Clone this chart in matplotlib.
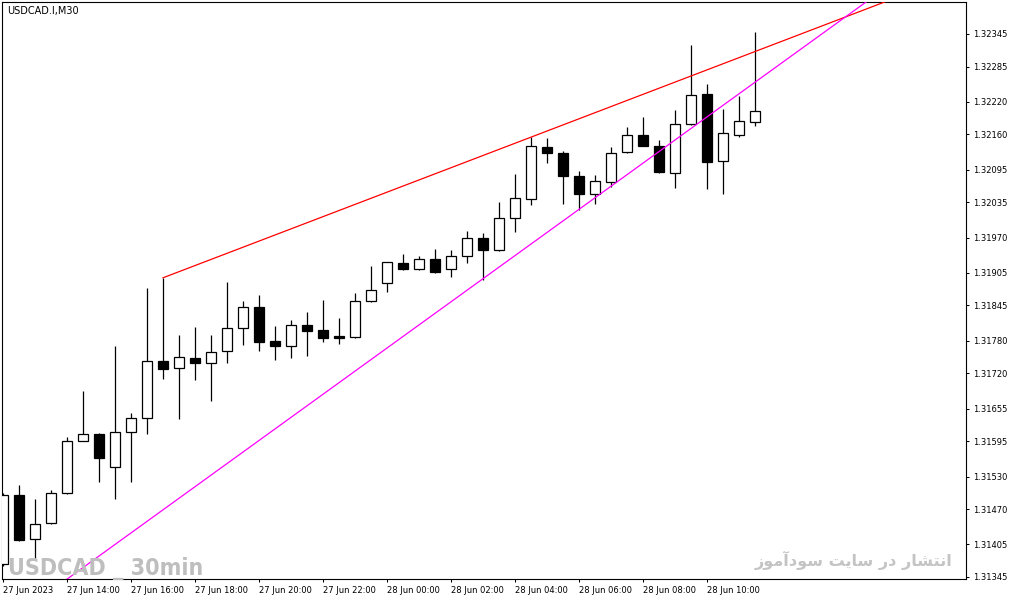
import matplotlib
matplotlib.use("Agg")
import matplotlib.pyplot as plt
from matplotlib import font_manager as fm
import numpy as np

# ---------------- data ----------------
chart_title = "USDCAD.I,M30"
watermark_left = "USDCAD _ 30min"
# "انتشار در سایت سودآموز" written with Arabic presentation forms in visual order
watermark_right = ("\uFEAF\uFEEE\uFEE3\uFE81\uFEA9\uFEEE\uFEB3 "
                   "\uFE96\uFBFE\uFE8E\uFEB3 "
                   "\uFEAD\uFEA9 "
                   "\uFEAD\uFE8E\uFEB8\uFE98\uFEE7\uFE8D")

opens = [1.31369, 1.31496, 1.31415, 1.31444, 1.31500, 1.31596, 1.31608, 1.31548,
         1.31612, 1.31638, 1.31743, 1.31730, 1.31748, 1.31739, 1.31761, 1.31804,
         1.31842, 1.31780, 1.31770, 1.31809, 1.31800, 1.31789, 1.31787, 1.31853,
         1.31886, 1.31923, 1.31912, 1.31931, 1.31912, 1.31936, 1.31969, 1.31947,
         1.32006, 1.32041, 1.32137, 1.32126, 1.32083, 1.32050, 1.32072, 1.32128,
         1.32159, 1.32139, 1.32089, 1.32179, 1.32235, 1.32111, 1.32159, 1.32183]
highs = [1.31500, 1.31514, 1.31489, 1.31505, 1.31603, 1.31688, 1.31610, 1.31770,
         1.31647, 1.31877, 1.31896, 1.31791, 1.31805, 1.31791, 1.31888, 1.31853,
         1.31864, 1.31807, 1.31818, 1.31833, 1.31855, 1.31822, 1.31868, 1.31918,
         1.31926, 1.31940, 1.31936, 1.31949, 1.31947, 1.31982, 1.31979, 1.32036,
         1.32087, 1.32155, 1.32153, 1.32130, 1.32093, 1.32085, 1.32137, 1.32174,
         1.32192, 1.32150, 1.32205, 1.32325, 1.32253, 1.32207, 1.32231, 1.32349]
lows = [1.31365, 1.31411, 1.31380, 1.31443, 1.31498, 1.31595, 1.31520, 1.31489,
        1.31520, 1.31608, 1.31710, 1.31636, 1.31708, 1.31669, 1.31739, 1.31772,
        1.31761, 1.31745, 1.31748, 1.31752, 1.31778, 1.31774, 1.31786, 1.31851,
        1.31870, 1.31911, 1.31911, 1.31905, 1.31898, 1.31923, 1.31892, 1.31946,
        1.31980, 1.32030, 1.32107, 1.32032, 1.32021, 1.32032, 1.32063, 1.32126,
        1.32138, 1.32089, 1.32061, 1.32177, 1.32060, 1.32050, 1.32155, 1.32176]
closes = [1.31496, 1.31413, 1.31443, 1.31500, 1.31596, 1.31608, 1.31564, 1.31612,
          1.31638, 1.31743, 1.31728, 1.31750, 1.31739, 1.31759, 1.31804, 1.31842,
          1.31778, 1.31770, 1.31809, 1.31798, 1.31785, 1.31785, 1.31853, 1.31874,
          1.31925, 1.31912, 1.31931, 1.31907, 1.31936, 1.31969, 1.31947, 1.32006,
          1.32043, 1.32139, 1.32126, 1.32083, 1.32050, 1.32074, 1.32126, 1.32159,
          1.32139, 1.32091, 1.32179, 1.32233, 1.32109, 1.32163, 1.32185, 1.32203]

x_tick_idx = [0, 4, 8, 12, 16, 20, 24, 28, 32, 36, 40, 44]
x_tick_labels = ["27 Jun 2023", "27 Jun 14:00", "27 Jun 16:00", "27 Jun 18:00",
                 "27 Jun 20:00", "27 Jun 22:00", "28 Jun 00:00", "28 Jun 02:00",
                 "28 Jun 04:00", "28 Jun 06:00", "28 Jun 08:00", "28 Jun 10:00"]
y_tick_values = [1.31345, 1.31405, 1.31470, 1.31530, 1.31595, 1.31655, 1.31720,
                 1.31780, 1.31845, 1.31905, 1.31970, 1.32035, 1.32095, 1.32160,
                 1.32220, 1.32285, 1.32345]

# trend lines
red_anchor_idx = [10, 33]            # resistance ray through these candle highs
magenta_idx = [4, 36]                # support line anchors
magenta_price = [1.31341, 1.32022]

x_range = (-0.0625, 60.19)
y_range = (1.313413, 1.324039)

# ---------------- figure ----------------
W, H = 1013, 601
fig = plt.figure(figsize=(W / 100, H / 100), dpi=100, facecolor="white")
ax = fig.add_axes([2 / W, 22 / H, 964 / W, 577 / H])
ax.set_facecolor("white")

x = np.arange(len(opens))
o = np.array(opens); h = np.array(highs); l = np.array(lows); c = np.array(closes)
up = c >= o
body_bottom = np.minimum(o, c)
body_h = np.maximum(np.abs(c - o), 0.000004)

ax.vlines(x, l, h, color="black", linewidth=0.9, zorder=2)
ax.bar(x[up], body_h[up], bottom=body_bottom[up], width=0.62, facecolor="white",
       edgecolor="black", linewidth=0.9, zorder=3)
ax.bar(x[~up], body_h[~up], bottom=body_bottom[~up], width=0.62, facecolor="black",
       edgecolor="black", linewidth=0.9, zorder=3)

# red resistance ray
i0, i1 = red_anchor_idx
slope_r = (highs[i1] - highs[i0]) / (i1 - i0)
xr = np.array([i0, x_range[1]])
ax.plot(xr, highs[i0] + slope_r * (xr - i0), color="#FF0000", linewidth=0.9, zorder=4)

# magenta support line
slope_m = (magenta_price[1] - magenta_price[0]) / (magenta_idx[1] - magenta_idx[0])
xm = np.array([x_range[0], x_range[1]])
ax.plot(xm, magenta_price[0] + slope_m * (xm - magenta_idx[0]), color="#FF00FF",
        linewidth=0.9, zorder=4)

ax.set_xlim(*x_range)
ax.set_ylim(*y_range)

ax.yaxis.tick_right()
ax.set_yticks(y_tick_values)
ax.set_yticklabels([f"{v:.5f}" for v in y_tick_values])
ax.set_xticks(x_tick_idx)
ax.set_xticklabels(x_tick_labels)
for lab in ax.get_xticklabels():
    lab.set_horizontalalignment("left")
ax.tick_params(axis="y", direction="out", length=2.3, width=0.75, pad=2.5,
               labelsize=6, colors="black")
ax.tick_params(axis="x", direction="out", length=2.3, width=0.75, pad=2.5,
               labelsize=6, colors="black")
for sp in ax.spines.values():
    sp.set_linewidth(0.8)
    sp.set_color("black")

fig.text(7 / W, 1 - 11 / H, chart_title, fontsize=7, ha="left", va="center",
         color="black")


# pick a condensed bold face if one is installed
def find_condensed_bold():
    best = None
    for f in fm.fontManager.ttflist:
        name = f.name.lower()
        stretch = str(f.stretch).lower()
        weight = f.weight
        is_bold = (weight in ("bold", "heavy", "black", "extra bold", "demibold")
                   or (isinstance(weight, (int, float)) and weight >= 600))
        is_cond = ("condensed" in stretch or "narrow" in name or "condensed" in name)
        if is_bold and is_cond:
            score = 0 if "dejavu" in name else (1 if "liberation" in name else 2)
            if best is None or score < best[0]:
                best = (score, f.fname)
    return best[1] if best else None


cond_path = find_condensed_bold()
if cond_path:
    wm_prop = fm.FontProperties(fname=cond_path)
else:
    wm_prop = fm.FontProperties(family=["Roboto", "Liberation Sans", "DejaVu Sans"],
                                weight="bold")

wm = fig.text(8 / W, 1 - 575 / H, watermark_left, fontproperties=wm_prop,
              fontsize=22, color="#BEBEBE", ha="left", va="baseline", zorder=1)
pr = fig.text(952 / W, 1 - 560 / H, watermark_right, fontsize=13, fontweight="bold",
              family=["DejaVu Sans"], color="#C4C4C4", ha="right", va="center")

# fit watermark widths to the reference
renderer = fig.canvas.get_renderer()
for txt, target in ((wm, 194.0), (pr, 197.0)):
    wpx = txt.get_window_extent(renderer).width
    txt.set_fontsize(txt.get_fontsize() * target / wpx)

fig.savefig("out.png", dpi=100, facecolor="white")
